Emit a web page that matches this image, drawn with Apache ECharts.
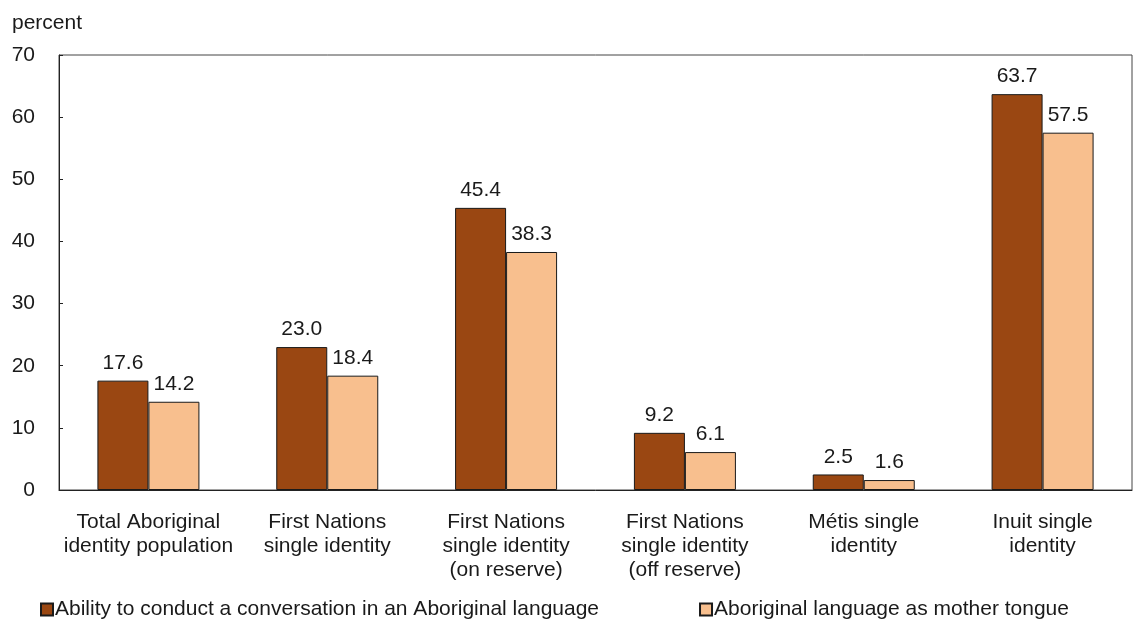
<!DOCTYPE html>
<html>
<head>
<meta charset="utf-8">
<script src="https://cdn.jsdelivr.net/npm/echarts@6/dist/echarts.min.js"></script>
<style>
  html, body { margin: 0; padding: 0; background: #fff; }
  #main { width: 1135px; height: 625px; }
</style>
</head>
<body>
<div id="main"></div>
<script>
// categories (x axis)
var categories = [
  'Total Aboriginal\nidentity population',
  'First Nations\nsingle identity',
  'First Nations\nsingle identity\n(on reserve)',
  'First Nations\nsingle identity\n(off reserve)',
  'Métis single\nidentity',
  'Inuit single\nidentity'
]
// series values
var conversation = [17.6, 23.0, 45.4, 9.2, 2.5, 63.7]
var motherTongue = [14.2, 18.4, 38.3, 6.1, 1.6, 57.5]
var seriesNames = [
  'Ability to conduct a conversation in an Aboriginal language',
  'Aboriginal language as mother tongue'
]
// y axis
var yMin = 0
var yMax = 70
var yStep = 10

var font = 'Liberation Sans, Arial, sans-serif'

var myChart = echarts.init(document.getElementById('main'))

var labelStyle = {
  show: true,
  position: 'top',
  distance: 7,
  color: '#1a1a1a',
  fontSize: 21,
  fontFamily: font,
  formatter: function (p) { return p.value.toFixed(1) }
}

var option = {
  animation: false,
  textStyle: { fontFamily: font },
  grid: {
    left: 59,
    right: 3,
    top: 55,
    bottom: 135,
    show: true,
    borderColor: '#444',
    borderWidth: 1
  },
  graphic: [
    {
      type: 'text',
      left: 12,
      top: 13,
      style: { text: 'percent', fontSize: 21, fontFamily: font, fill: '#1a1a1a' }
    }
  ],
  legend: {
    bottom: 0,
    left: 35,
    icon: 'rect',
    itemWidth: 12,
    itemHeight: 12,
    itemGap: 100,
    textStyle: { fontSize: 21, color: '#1a1a1a', fontFamily: font, padding: [0, 0, 0, -3] },
    data: seriesNames
  },
  xAxis: {
    type: 'category',
    data: categories,
    axisLine: { lineStyle: { color: '#222', width: 1 } },
    axisTick: { show: false },
    axisLabel: {
      interval: 0,
      margin: 20,
      color: '#1a1a1a',
      fontSize: 21,
      lineHeight: 24,
      fontFamily: font
    }
  },
  yAxis: {
    type: 'value',
    min: yMin,
    max: yMax,
    interval: yStep,
    splitLine: { show: false },
    axisLine: { show: true, lineStyle: { color: '#222', width: 1 } },
    axisTick: { show: true, inside: true, length: 4, lineStyle: { color: '#222' } },
    axisLabel: { color: '#1a1a1a', fontSize: 21, margin: 24, fontFamily: font }
  },
  series: [
    {
      name: seriesNames[0],
      type: 'bar',
      data: conversation,
      barWidth: 51,
      barGap: '0%',
      itemStyle: { color: '#9a4712', borderColor: '#1a1a1a', borderWidth: 1 },
      label: labelStyle
    },
    {
      name: seriesNames[1],
      type: 'bar',
      data: motherTongue,
      barWidth: 51,
      itemStyle: { color: '#f8bf8e', borderColor: '#1a1a1a', borderWidth: 1 },
      label: labelStyle
    }
  ]
}

myChart.setOption(option)
</script>
</body>
</html>
